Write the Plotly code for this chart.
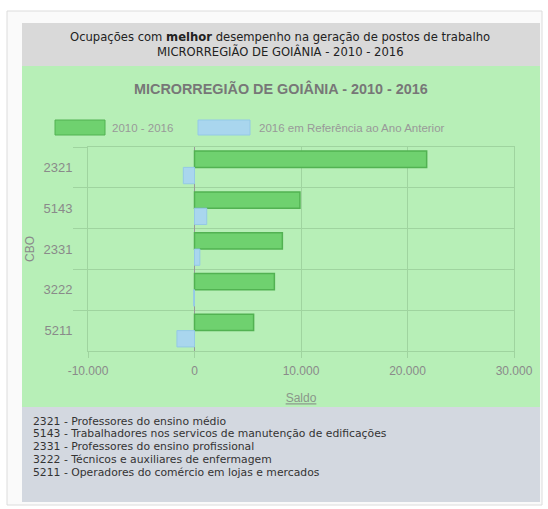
import plotly.graph_objects as go

# --- data -------------------------------------------------------------
cbo_codes = ["2321", "5143", "2331", "3222", "5211"]
saldo_2010_2016 = [21800, 9900, 8250, 7500, 5550]
saldo_2016_ano_anterior = [-1050, 1150, 500, -80, -1650]
descricoes = [
    "Professores do ensino médio",
    "Trabalhadores nos servicos de manutenção de edificações",
    "Professores do ensino profissional",
    "Técnicos e auxiliares de enfermagem",
    "Operadores do comércio em lojas e mercados",
]
serie_nomes = ["2010 - 2016", "2016 em Referência ao Ano Anterior"]
x_ticks = [-10000, 0, 10000, 20000, 30000]


def fmt_milhar(v):
    # thousands separated with "." and a plain hyphen for negatives
    return f"{v:,.0f}".replace(",", ".")


x_ticktext = [fmt_milhar(v) for v in x_ticks]

# --- page geometry (pixels) ------------------------------------------
W, H = 548, 509
ML, MR, MT, MB = 88, 34, 147, 158
PW, PH = W - ML - MR, H - MT - MB


def px(x):
    return (x - ML) / PW


def py(y):
    return (H - MB - y) / PH


GREEN_BG = "#b7efb7"
GRID = "#9fd49f"
TXT = "#8a8a8a"
CHART_FONT = "Liberation Sans, Arial, sans-serif"
BOX_FONT = "DejaVu Sans, Tahoma, sans-serif"

fig = go.Figure()
fig.add_trace(go.Bar(
    y=cbo_codes, x=saldo_2010_2016, orientation="h", name=serie_nomes[0],
    marker=dict(color="#6fd16f", line=dict(color="#52b252", width=1.5)),
))
fig.add_trace(go.Bar(
    y=cbo_codes, x=saldo_2016_ano_anterior, orientation="h", name=serie_nomes[1],
    marker=dict(color="#a9d6ee", line=dict(color="#94c9e6", width=1)),
))


def rect(x0, y0, x1, y1, fill, line=None):
    return dict(type="rect", xref="paper", yref="paper", layer="below",
                x0=px(x0), x1=px(x1), y0=py(y1), y1=py(y0),
                fillcolor=fill,
                line=dict(color=line or fill, width=1 if line else 0))


shapes = [
    rect(7, 11, 542, 505, "#fafafa", "#dcdcdc"),
    rect(22, 23, 540, 66, "#d9d9d9"),
    rect(22, 66, 540, 407, GREEN_BG),
    rect(22, 407, 540, 502, "#d3d8e0"),
    # legend swatches
    dict(type="rect", xref="paper", yref="paper", x0=px(55), x1=px(105),
         y0=py(135), y1=py(120), fillcolor="#6fd16f",
         line=dict(color="#52b252", width=1)),
    dict(type="rect", xref="paper", yref="paper", x0=px(198), x1=px(250),
         y0=py(135), y1=py(120), fillcolor="#a9d6ee",
         line=dict(color="#94c9e6", width=1)),
]


def note(x, y, text, size, color, font, xanchor="center", **kw):
    return dict(xref="paper", yref="paper", x=px(x), y=py(y), text=text,
                showarrow=False, xanchor=xanchor, yanchor="middle",
                font=dict(size=size, color=color, family=font), **kw)


annotations = [
    note(280, 37.5, "Ocupações com <b>melhor</b> desempenho na geração de postos de trabalho",
         11.6, "#222", BOX_FONT),
    note(280, 51.5, "MICRORREGIÃO DE GOIÂNIA - 2010 - 2016", 11.6, "#222", BOX_FONT),
    note(281, 89, "<b>MICRORREGIÃO DE GOIÂNIA - 2010 - 2016</b>", 14.4, "#777", CHART_FONT),
    note(110, 128, serie_nomes[0], 11.5, "#999", CHART_FONT, xanchor="left"),
    note(257, 128, serie_nomes[1], 11.5, "#999", CHART_FONT, xanchor="left"),
]
for i, (code, desc) in enumerate(zip(cbo_codes, descricoes)):
    annotations.append(note(31, 421 + i * 12.9, f"{code} - {desc}", 10.8, "#333",
                            BOX_FONT, xanchor="left"))

fig.update_layout(
    width=W, height=H,
    margin=dict(l=ML, r=MR, t=MT, b=MB, pad=0),
    paper_bgcolor="white",
    plot_bgcolor="rgba(0,0,0,0)",
    barmode="group", bargap=0.2, bargroupgap=0,
    showlegend=False,
    shapes=shapes,
    annotations=annotations,
    font=dict(family=CHART_FONT, size=12, color=TXT),
    xaxis=dict(
        range=[-10000, 30000], tickvals=x_ticks, ticktext=x_ticktext,
        showgrid=True, gridcolor=GRID, gridwidth=1,
        zeroline=True, zerolinecolor="#999", zerolinewidth=1,
        ticks="outside", ticklen=6, tickcolor=GRID,
        showline=True, linecolor=GRID, mirror=True,
        ticklabelstandoff=3,
        tickfont=dict(size=12, color=TXT),
        title=dict(text="Saldo", standoff=16,
                   font=dict(size=12, color="#8a968a", lineposition="under")),
    ),
    yaxis=dict(
        type="category", categoryorder="array",
        categoryarray=cbo_codes, autorange="reversed",
        tickson="boundaries", showgrid=True, gridcolor=GRID, gridwidth=1,
        ticks="outside", ticklen=14, tickcolor=GRID,
        showline=True, linecolor=GRID, mirror=True,
        ticklabelstandoff=12,
        tickfont=dict(size=13, color=TXT),
        title=dict(text="CBO", font=dict(size=12, color=TXT), standoff=6),
    ),
)

fig.write_html("out.html")
